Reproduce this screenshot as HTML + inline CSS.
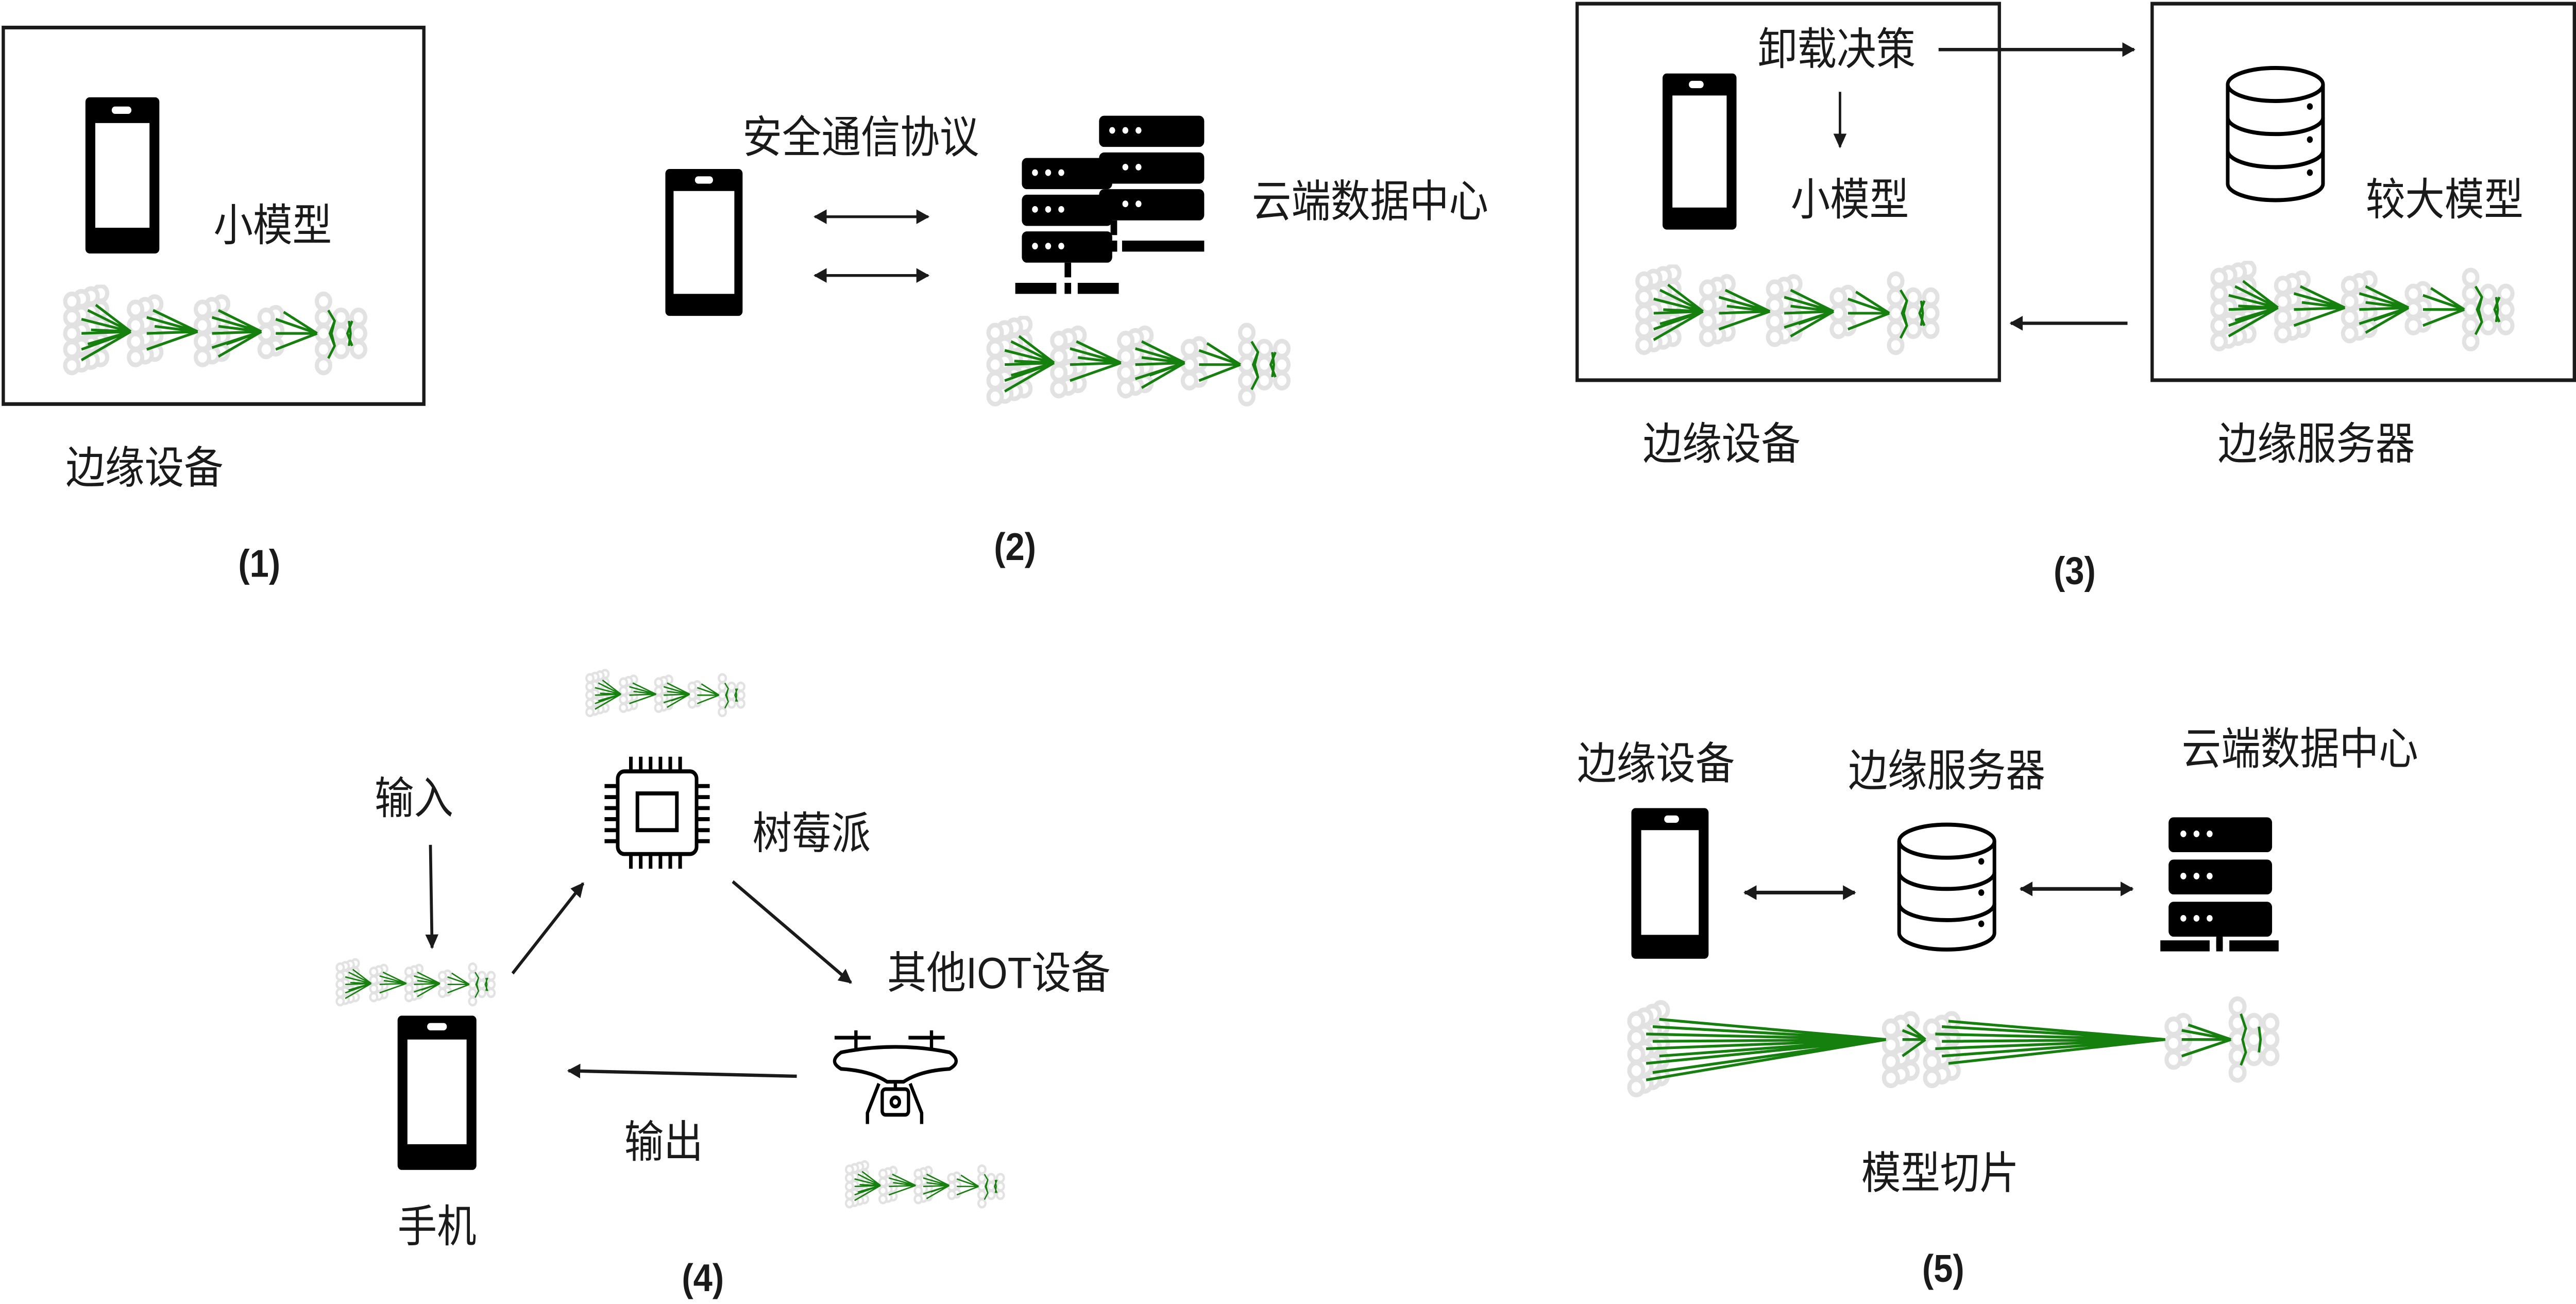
<!DOCTYPE html>
<html><head><meta charset="utf-8"><style>
html,body{margin:0;padding:0;background:#fff;width:100%;height:100%;overflow:hidden}
svg{display:block;position:absolute;left:0;top:0;width:100vw;height:100vh}
text{font-family:"Liberation Sans","Noto Sans CJK SC",sans-serif;fill:#1a1a1a;font-size:24px}
.b{font-weight:bold;font-size:21px}
</style></head><body>
<svg viewBox="0 0 1568 710" preserveAspectRatio="none" xmlns="http://www.w3.org/2000/svg">
<defs>
<marker id="ah" viewBox="0 0 10 10" refX="9" refY="5" markerWidth="8" markerHeight="8" markerUnits="userSpaceOnUse" orient="auto-start-reverse"><path d="M0,0 L10,5 L0,10 z" fill="#1a1a1a"/></marker>
<circle id="c" r="4.2" fill="#fff" stroke="#e2e2e2" stroke-width="2.6"/>
<symbol id="nn" viewBox="0 0 196 56">
<g>
<use href="#c" x="26" y="4.5"/><use href="#c" x="26" y="13.5"/><use href="#c" x="26" y="22.5"/><use href="#c" x="26" y="31.5"/><use href="#c" x="26" y="40.5"/>
<use href="#c" x="20" y="6"/><use href="#c" x="20" y="15"/><use href="#c" x="20" y="24"/><use href="#c" x="20" y="33"/><use href="#c" x="20" y="42"/>
<use href="#c" x="14" y="7.5"/><use href="#c" x="14" y="16.5"/><use href="#c" x="14" y="25.5"/><use href="#c" x="14" y="34.5"/><use href="#c" x="14" y="43.5"/>
<use href="#c" x="8" y="9"/><use href="#c" x="8" y="18"/><use href="#c" x="8" y="27"/><use href="#c" x="8" y="36"/><use href="#c" x="8" y="45"/>
<use href="#c" x="60" y="10.5"/><use href="#c" x="60" y="19.5"/><use href="#c" x="60" y="28.5"/><use href="#c" x="60" y="37.5"/>
<use href="#c" x="54" y="12"/><use href="#c" x="54" y="21"/><use href="#c" x="54" y="30"/><use href="#c" x="54" y="39"/>
<use href="#c" x="48" y="13.5"/><use href="#c" x="48" y="22.5"/><use href="#c" x="48" y="31.5"/><use href="#c" x="48" y="40.5"/>
<use href="#c" x="102" y="10.5"/><use href="#c" x="102" y="19.5"/><use href="#c" x="102" y="28.5"/><use href="#c" x="102" y="37.5"/>
<use href="#c" x="96" y="12"/><use href="#c" x="96" y="21"/><use href="#c" x="96" y="30"/><use href="#c" x="96" y="39"/>
<use href="#c" x="90" y="13.5"/><use href="#c" x="90" y="22.5"/><use href="#c" x="90" y="31.5"/><use href="#c" x="90" y="40.5"/>
<use href="#c" x="136" y="16.5"/><use href="#c" x="136" y="25.5"/><use href="#c" x="136" y="34.5"/>
<use href="#c" x="130" y="18"/><use href="#c" x="130" y="27"/><use href="#c" x="130" y="36"/>
<use href="#c" x="166" y="9"/><use href="#c" x="166" y="18"/><use href="#c" x="166" y="27"/><use href="#c" x="166" y="36"/><use href="#c" x="166" y="45"/>
<use href="#c" x="177" y="18"/><use href="#c" x="177" y="27"/><use href="#c" x="177" y="36"/>
<use href="#c" x="188" y="18"/><use href="#c" x="188" y="27"/><use href="#c" x="188" y="36"/>
</g>
<g stroke="#16800f" stroke-width="1.5" fill="none">
<path d="M14,19 L45,26 M18,14 L45,26 M23,11 L45,26 M14,27 L45,26 M20,25 L45,26 M14,36 L45,26 M18,33 L45,26 M14,42 L45,26"/>
<path d="M55,18 L87,26 M59,14 L87,26 M55,27 L87,26 M60,23 L87,26 M55,36 L87,26"/>
<path d="M96,18 L127,26 M100,14 L127,26 M96,27 L127,26 M100,23 L127,26 M96,35 L127,26 M100,40 L127,26 M105,33 L127,26"/>
<path d="M136,19 L162,27 M141,15 L162,27 M136,27 L162,27 M136,36 L162,27"/>
<path d="M169,14 L173,20 L171,27 L173,34 L169,41 M173,20 L170,27 L173,34 M182,20 L183,27 L182,34 M184,20 L181,27 L184,34"/>
</g>
</symbol>
</defs>

<!-- Panel 1 -->
<rect x="2" y="15" width="256" height="205" fill="none" stroke="#1a1a1a" stroke-width="2"/>
<rect x="52" y="53" width="45" height="85" rx="2.5" fill="#000"/><rect x="58" y="67" width="33" height="57" fill="#fff"/><rect x="68" y="58" width="12" height="4" rx="2" fill="#fff"/>
<text x="130" y="131">小模型</text>
<use href="#nn" x="36" y="155" width="190" height="55"/>
<text x="40" y="263">边缘设备</text>
<text class="b" x="145" y="314">(1)</text>

<!-- Panel 2 -->
<text x="452" y="83">安全通信协议</text>
<rect x="405" y="92" width="47" height="80" rx="2.5" fill="#000"/><rect x="410" y="104" width="37" height="56" fill="#fff"/><rect x="423" y="96" width="11" height="4" rx="2" fill="#fff"/>
<line x1="496" y1="118" x2="565" y2="118" stroke="#1a1a1a" stroke-width="1.5" marker-start="url(#ah)" marker-end="url(#ah)"/>
<line x1="496" y1="150" x2="565" y2="150" stroke="#1a1a1a" stroke-width="1.5" marker-start="url(#ah)" marker-end="url(#ah)"/>
<g fill="#000">
<rect x="669" y="63" width="64" height="17" rx="3"/><rect x="669" y="83" width="64" height="17" rx="3"/><rect x="669" y="103" width="64" height="17" rx="3"/>
<rect x="622" y="86" width="55" height="17" rx="3"/><rect x="622" y="106" width="55" height="17" rx="3"/><rect x="622" y="126" width="55" height="17" rx="3"/>
<rect x="676" y="120" width="4" height="8"/><rect x="676" y="131" width="4" height="6"/><rect x="683" y="131" width="50" height="6"/><rect x="677" y="131" width="3" height="6"/>
<rect x="648" y="143" width="4" height="8"/><rect x="618" y="154" width="25" height="6"/><rect x="648" y="154" width="4" height="6"/><rect x="656" y="154" width="25" height="6"/>
</g>
<g fill="#fff">
<circle cx="677" cy="71" r="1.8"/><circle cx="685" cy="71" r="1.8"/><circle cx="693" cy="71" r="1.8"/>
<circle cx="685" cy="91" r="1.8"/><circle cx="693" cy="91" r="1.8"/><circle cx="685" cy="111" r="1.8"/><circle cx="693" cy="111" r="1.8"/>
<circle cx="630" cy="94" r="1.8"/><circle cx="638" cy="94" r="1.8"/><circle cx="646" cy="94" r="1.8"/>
<circle cx="630" cy="114" r="1.8"/><circle cx="638" cy="114" r="1.8"/><circle cx="646" cy="114" r="1.8"/>
<circle cx="630" cy="134" r="1.8"/><circle cx="638" cy="134" r="1.8"/><circle cx="646" cy="134" r="1.8"/>
</g>
<text x="762" y="118">云端数据中心</text>
<use href="#nn" x="598" y="172" width="190" height="55"/>
<text class="b" x="605" y="305">(2)</text>

<!-- Panel 3 -->
<rect x="960" y="2" width="257" height="205" fill="none" stroke="#1a1a1a" stroke-width="2"/>
<rect x="1310" y="2" width="257" height="205" fill="none" stroke="#1a1a1a" stroke-width="2"/>
<text x="1070" y="35">卸载决策</text>
<line x1="1180" y1="27" x2="1299" y2="27" stroke="#1a1a1a" stroke-width="1.8" marker-end="url(#ah)"/>
<line x1="1120" y1="50" x2="1120" y2="80" stroke="#1a1a1a" stroke-width="1.5" marker-end="url(#ah)"/>
<rect x="1012" y="40" width="45" height="85" rx="2.5" fill="#000"/><rect x="1018" y="52" width="33" height="61" fill="#fff"/><rect x="1028" y="44" width="9" height="4" rx="2" fill="#fff"/>
<text x="1090" y="117">小模型</text>
<use href="#nn" x="993" y="144" width="190" height="55"/>
<g fill="none" stroke="#000" stroke-width="2.2">
<path d="M1356,46 V100 A29,9 0 0 0 1414,100 V46"/>
<ellipse cx="1385" cy="46" rx="29" ry="9"/>
<path d="M1356,64 A29,9 0 0 0 1414,64 M1356,82 A29,9 0 0 0 1414,82"/>
</g>
<g fill="#000"><circle cx="1406" cy="58" r="1.8"/><circle cx="1406" cy="76" r="1.8"/><circle cx="1406" cy="94" r="1.8"/></g>
<text x="1440" y="117">较大模型</text>
<use href="#nn" x="1343" y="142" width="190" height="55"/>
<line x1="1295" y1="176" x2="1224" y2="176" stroke="#1a1a1a" stroke-width="1.8" marker-end="url(#ah)"/>
<text x="1000" y="250">边缘设备</text>
<text x="1350" y="250">边缘服务器</text>
<text class="b" x="1250" y="318">(3)</text>

<!-- Panel 4 -->
<use href="#nn" x="355" y="364" width="100" height="30"/>
<g fill="none" stroke="#000" stroke-width="2.2">
<rect x="376" y="420" width="48" height="45" rx="4"/><rect x="388" y="432" width="24" height="20"/>
<path d="M384,412 v8 M390,412 v8 M396,412 v8 M402,412 v8 M408,412 v8 M414,412 v8 M384,465 v8 M390,465 v8 M396,465 v8 M402,465 v8 M408,465 v8 M414,465 v8 M368,428 h8 M368,434 h8 M368,440 h8 M368,446 h8 M368,452 h8 M368,458 h8 M424,428 h8 M424,434 h8 M424,440 h8 M424,446 h8 M424,452 h8 M424,458 h8"/>
</g>
<text x="458" y="462">树莓派</text>
<text x="228" y="443">输入</text>
<line x1="262" y1="460" x2="263" y2="516" stroke="#1a1a1a" stroke-width="1.8" marker-end="url(#ah)"/>
<use href="#nn" x="203" y="520" width="100" height="33"/>
<line x1="312" y1="530" x2="355" y2="481" stroke="#1a1a1a" stroke-width="1.8" marker-end="url(#ah)"/>
<line x1="446" y1="480" x2="518" y2="535" stroke="#1a1a1a" stroke-width="1.8" marker-end="url(#ah)"/>
<text x="540" y="538">其他IOT设备</text>
<g fill="none" stroke="#000" stroke-width="2">
<path d="M508,565 h22 M553,565 h22 M521,561 v10 M567,561 v10"/>
<path d="M512,573 Q545,567 578,573 Q586,578 578,582 Q560,583 550,589 H540 Q530,583 512,582 Q504,578 512,573 Z"/>
<path d="M535,590 L528,606 v6 M554,590 L561,606 v6 M545,589 v4"/>
<rect x="537" y="593" width="16" height="14" rx="2"/><circle cx="545" cy="600" r="2.5"/>
</g>
<use href="#nn" x="513" y="630" width="100" height="33"/>
<line x1="485" y1="586" x2="346" y2="583" stroke="#1a1a1a" stroke-width="1.8" marker-end="url(#ah)"/>
<text x="380" y="630">输出</text>
<rect x="242" y="553" width="48" height="84" rx="2.5" fill="#000"/><rect x="248" y="566" width="36" height="57" fill="#fff"/><rect x="260" y="557" width="12" height="4" rx="2" fill="#fff"/>
<text x="242" y="676">手机</text>
<text class="b" x="415" y="703">(4)</text>

<!-- Panel 5 -->
<text x="960" y="424">边缘设备</text>
<text x="1125" y="428">边缘服务器</text>
<text x="1328" y="416">云端数据中心</text>
<rect x="993" y="440" width="47" height="82" rx="2.5" fill="#000"/><rect x="999" y="452" width="35" height="57" fill="#fff"/><rect x="1013" y="444" width="9" height="4" rx="2" fill="#fff"/>
<line x1="1062" y1="486" x2="1129" y2="486" stroke="#1a1a1a" stroke-width="2" marker-start="url(#ah)" marker-end="url(#ah)"/>
<g fill="none" stroke="#000" stroke-width="2.2">
<path d="M1156,458 V508 A29,9 0 0 0 1214,508 V458"/>
<ellipse cx="1185" cy="458" rx="29" ry="9"/>
<path d="M1156,475 A29,9 0 0 0 1214,475 M1156,492 A29,9 0 0 0 1214,492"/>
</g>
<g fill="#000"><circle cx="1206" cy="469" r="1.8"/><circle cx="1206" cy="486" r="1.8"/><circle cx="1206" cy="503" r="1.8"/></g>
<line x1="1230" y1="484" x2="1298" y2="484" stroke="#1a1a1a" stroke-width="2" marker-start="url(#ah)" marker-end="url(#ah)"/>
<g fill="#000">
<rect x="1320" y="445" width="63" height="19" rx="3"/><rect x="1320" y="468" width="63" height="19" rx="3"/><rect x="1320" y="491" width="63" height="19" rx="3"/>
<rect x="1349" y="510" width="4" height="6"/><rect x="1315" y="512" width="30" height="6"/><rect x="1349" y="512" width="4" height="6"/><rect x="1357" y="512" width="30" height="6"/>
</g>
<g fill="#fff">
<circle cx="1329" cy="454" r="1.8"/><circle cx="1337" cy="454" r="1.8"/><circle cx="1345" cy="454" r="1.8"/>
<circle cx="1329" cy="477" r="1.8"/><circle cx="1337" cy="477" r="1.8"/><circle cx="1345" cy="477" r="1.8"/>
<circle cx="1329" cy="500" r="1.8"/><circle cx="1337" cy="500" r="1.8"/><circle cx="1345" cy="500" r="1.8"/>
</g>
<g>
<use href="#c" x="1011" y="550"/><use href="#c" x="1011" y="559"/><use href="#c" x="1011" y="568"/><use href="#c" x="1011" y="577"/><use href="#c" x="1011" y="586"/>
<use href="#c" x="1006" y="552"/><use href="#c" x="1006" y="561"/><use href="#c" x="1006" y="570"/><use href="#c" x="1006" y="579"/><use href="#c" x="1006" y="588"/>
<use href="#c" x="1001" y="554"/><use href="#c" x="1001" y="563"/><use href="#c" x="1001" y="572"/><use href="#c" x="1001" y="581"/><use href="#c" x="1001" y="590"/>
<use href="#c" x="996" y="556"/><use href="#c" x="996" y="565"/><use href="#c" x="996" y="574"/><use href="#c" x="996" y="583"/><use href="#c" x="996" y="592"/>
<use href="#c" x="1163" y="556"/><use href="#c" x="1163" y="565"/><use href="#c" x="1163" y="574"/><use href="#c" x="1163" y="583"/>
<use href="#c" x="1157" y="558"/><use href="#c" x="1157" y="567"/><use href="#c" x="1157" y="576"/><use href="#c" x="1157" y="585"/>
<use href="#c" x="1151" y="560"/><use href="#c" x="1151" y="569"/><use href="#c" x="1151" y="578"/><use href="#c" x="1151" y="587"/>
<use href="#c" x="1188" y="556"/><use href="#c" x="1188" y="565"/><use href="#c" x="1188" y="574"/><use href="#c" x="1188" y="583"/>
<use href="#c" x="1182" y="558"/><use href="#c" x="1182" y="567"/><use href="#c" x="1182" y="576"/><use href="#c" x="1182" y="585"/>
<use href="#c" x="1176" y="560"/><use href="#c" x="1176" y="569"/><use href="#c" x="1176" y="578"/><use href="#c" x="1176" y="587"/>
<use href="#c" x="1329" y="557"/><use href="#c" x="1329" y="566"/><use href="#c" x="1329" y="575"/>
<use href="#c" x="1323" y="559"/><use href="#c" x="1323" y="568"/><use href="#c" x="1323" y="577"/>
<use href="#c" x="1362" y="548"/><use href="#c" x="1362" y="557"/><use href="#c" x="1362" y="566"/><use href="#c" x="1362" y="575"/><use href="#c" x="1362" y="584"/>
<use href="#c" x="1372" y="557"/><use href="#c" x="1372" y="566"/><use href="#c" x="1372" y="575"/>
<use href="#c" x="1382" y="557"/><use href="#c" x="1382" y="566"/><use href="#c" x="1382" y="575"/>
</g>
<g stroke="#16800f" stroke-width="1.5" fill="none">
<path d="M1006,559 L1148,566 M1010,555 L1148,566 M1002,563 L1148,566 M1006,567 L1148,566 M1002,571 L1148,566 M1010,575 L1148,566 M1002,579 L1148,566 M1006,584 L1148,566 M1002,588 L1148,566"/>
<path d="M1158,561 L1172,566 M1161,558 L1172,566 M1158,566 L1172,566 M1158,575 L1172,566"/>
<path d="M1182,559 L1318,566 M1186,556 L1318,566 M1178,563 L1318,566 M1182,567 L1318,566 M1178,571 L1318,566 M1182,575 L1318,566 M1186,579 L1318,566"/>
<path d="M1328,561 L1358,566 M1332,558 L1358,566 M1328,566 L1358,566 M1328,575 L1358,566"/>
<path d="M1364,552 L1367,560 L1365,566 L1367,573 L1364,580 M1375,559 L1376,566 L1375,573"/>
</g>
<text x="1133" y="647">模型切片</text>
<text class="b" x="1170" y="698">(5)</text>
</svg>
</body></html>
